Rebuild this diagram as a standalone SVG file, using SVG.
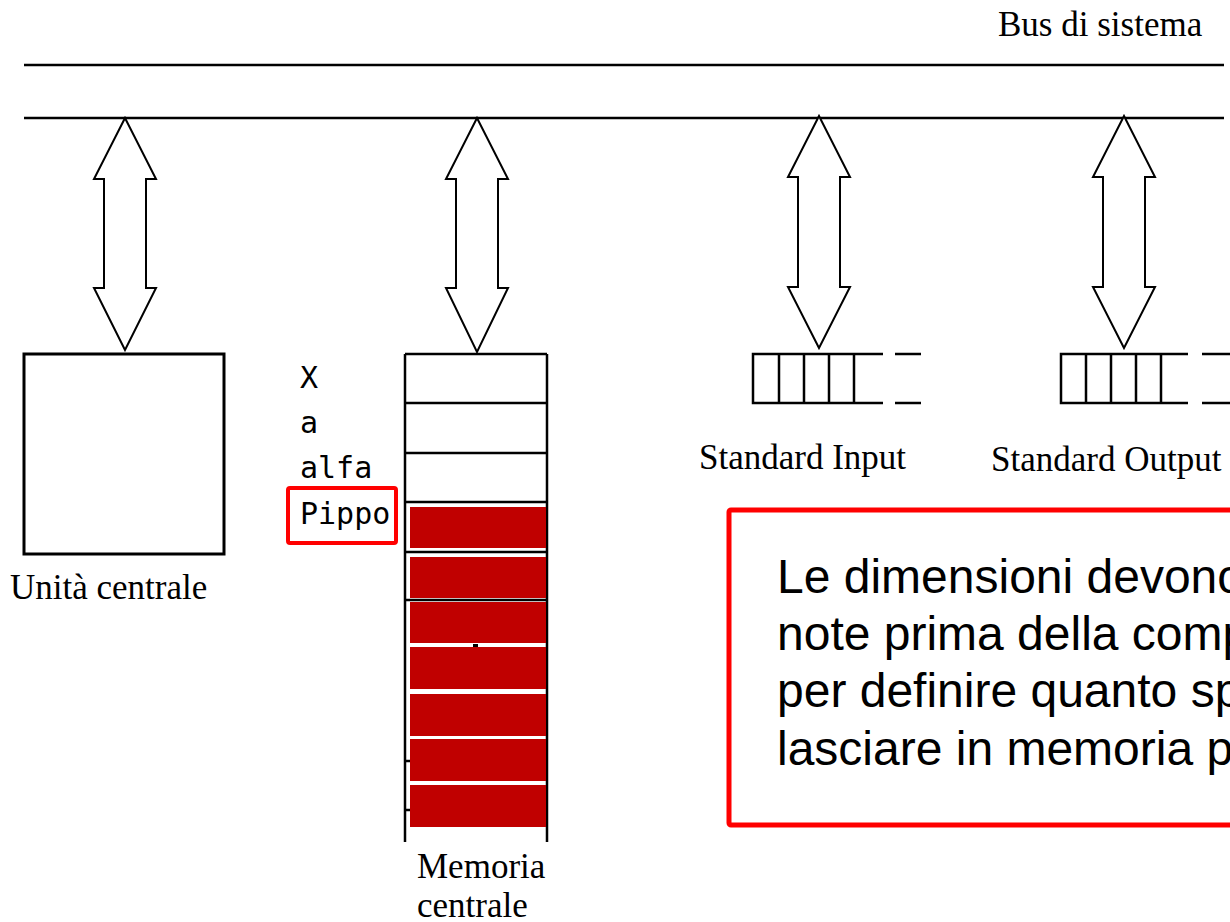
<svg xmlns="http://www.w3.org/2000/svg" width="1230" height="922" viewBox="0 0 1230 922">
<defs>
<style>
.ln{stroke:#000;stroke-width:2.5;fill:none}
.box{stroke:#000;stroke-width:3;fill:#fff}
.arr{stroke:#000;stroke-width:2;fill:#fff;stroke-linejoin:miter}
.serif{font-family:"Liberation Serif","Times New Roman",serif;font-size:35px;fill:#000}
.mono{font-family:"DejaVu Sans Mono","Liberation Mono",monospace;font-size:30px;fill:#000}
.sans{font-family:"Liberation Sans",Arial,sans-serif;font-size:48px;fill:#000}
.red{fill:#C00000}
</style>
</defs>
<rect width="1230" height="922" fill="#fff"/>
<g id="bus">
<line class="ln" x1="24" y1="65" x2="1224" y2="65"/>
<line class="ln" x1="24" y1="118" x2="1224" y2="118"/>
<text class="serif" x="998" y="36">Bus di sistema</text>
</g>
<g id="connectors">
<polygon class="arr" points="125,118 156,179 146,179 146,288 156,288 125,350 94,288 104,288 104,179 94,179"/>
<polygon class="arr" points="477,118 508,179 498,179 498,288 508,288 477,352 446,288 456,288 456,179 446,179"/>
<polygon class="arr" points="819,116 850,177 840,177 840,287 850,287 819,348 788,287 798,287 798,177 788,177"/>
<polygon class="arr" points="1124,116 1155,177 1145,177 1145,287 1155,287 1124,348 1093,287 1103,287 1103,177 1093,177"/>
</g>
<g id="cpu">
<rect class="box" x="24" y="354" width="200" height="200"/>
<text class="serif" x="10" y="599">Unità centrale</text>
</g>
<g id="vars">
<text class="mono" x="300" y="388">X</text>
<text class="mono" x="300" y="433">a</text>
<text class="mono" x="300" y="478">alfa</text>
<text class="mono" x="300" y="524">Pippo</text>
<rect x="288" y="488" width="108" height="55" rx="2" fill="none" stroke="#ff0000" stroke-width="4"/>
</g>
<g id="memoria">
<line class="ln" x1="405" y1="354" x2="405" y2="842"/>
<line class="ln" x1="547" y1="354" x2="547" y2="842"/>
<line class="ln" x1="405" y1="354" x2="547" y2="354"/>
<line class="ln" x1="405" y1="403" x2="547" y2="403"/>
<line class="ln" x1="405" y1="453" x2="547" y2="453"/>
<line class="ln" x1="405" y1="502" x2="547" y2="502"/>
<line class="ln" x1="405" y1="552" x2="547" y2="552"/>
<line class="ln" x1="405" y1="600" x2="547" y2="600"/>
<line class="ln" x1="405" y1="761" x2="411" y2="761"/>
<line class="ln" x1="405" y1="810" x2="411" y2="810"/>
<rect class="red" x="410" y="507" width="136" height="41"/>
<rect class="red" x="410" y="557" width="136" height="41"/>
<rect class="red" x="410" y="602" width="136" height="41"/>
<rect class="red" x="410" y="647" width="136" height="42"/>
<rect class="red" x="410" y="694" width="136" height="42"/>
<rect class="red" x="410" y="739" width="136" height="42"/>
<rect class="red" x="410" y="785" width="136" height="42"/>
<rect x="473" y="644" width="5" height="3" fill="#000"/>
<text class="serif" x="417" y="878">Memoria</text>
<text class="serif" x="417" y="917">centrale</text>
</g>
<g id="stdin">
<path class="ln" d="M883,354 H753 V403 H883 M779,354 V403 M804,354 V403 M829,354 V403 M854,354 V403 M895,354 H921 M895,403 H921"/>
<text class="serif" x="699" y="469">Standard Input</text>
</g>
<g id="stdout">
<path class="ln" d="M1188,354 H1061 V403 H1188 M1086,354 V403 M1111,354 V403 M1136,354 V403 M1161,354 V403 M1202,354 H1230 M1202,403 H1230"/>
<text class="serif" x="991" y="471">Standard Output</text>
</g>
<g id="nota">
<rect x="729" y="510" width="520" height="315" rx="2" fill="none" stroke="#ff0000" stroke-width="5"/>
<text class="sans" x="777" y="593">Le dimensioni devono</text>
<text class="sans" x="777" y="650">note prima della compilazione</text>
<text class="sans" x="777" y="707">per definire quanto spazio</text>
<text class="sans" x="777" y="765">lasciare in memoria per</text>
</g>
</svg>
